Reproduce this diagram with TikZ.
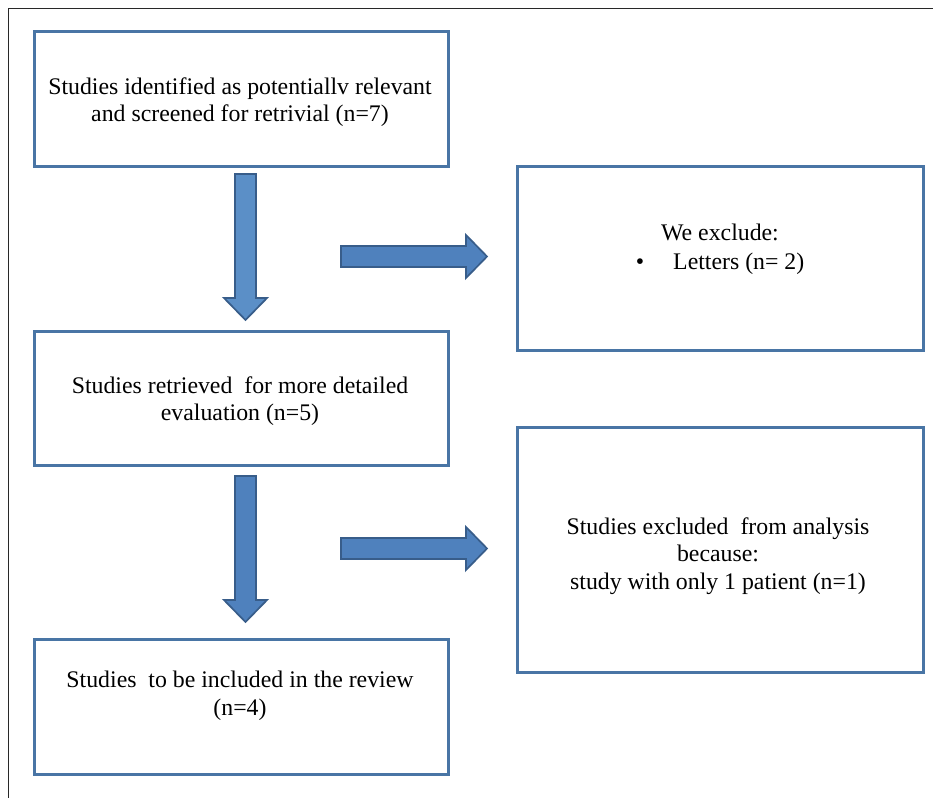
\documentclass[tikz,border=0pt]{standalone}
\usepackage{fontspec}
\setmainfont{Liberation Serif}
\definecolor{boxblue}{RGB}{73,117,165}
\definecolor{arrfill}{RGB}{79,129,189}
\definecolor{arrfillA}{RGB}{91,143,199}
\definecolor{arrline}{RGB}{56,93,138}
\definecolor{framegray}{RGB}{40,40,40}
\begin{document}
\begin{tikzpicture}[x=1pt,y=-1pt,
  box/.style={draw=boxblue,line width=3pt,inner sep=0pt,anchor=north west,fill=white},
  txt/.style={align=center,inner sep=0pt,font=\fontsize{23.8}{27.5}\selectfont},
  blockarrow/.style={fill=arrfill,draw=arrline,line width=1.7pt,line join=miter},
  framestyle/.style={draw=framegray,line width=1.6pt}]
\useasboundingbox (0,0) rectangle (933,798);
\fill[white] (0,0) rectangle (933,798);
\draw[framestyle] (933,8.5) -- (8.5,8.5) -- (8.5,798);
% left column boxes
\node[box,minimum width=414pt,minimum height=135pt] (b1) at (33,30) {};
\node[box,minimum width=414pt,minimum height=134pt] (b2) at (33,330) {};
\node[box,minimum width=414pt,minimum height=135pt] (b3) at (33,638) {};
% right column boxes
\node[box,minimum width=406pt,minimum height=184pt] (r1) at (516,165) {};
\node[box,minimum width=406pt,minimum height=245pt] (r2) at (516,426) {};
% texts
\node[txt] (t1) at (240,102) {Studies identified as potentiallv relevant\\and screened for retrivial (n=7)};
\node[txt] (t2) at (240,401) {Studies retrieved\hspace{0.25em} for more detailed\\evaluation (n=5)};
\node[txt] (t3) at (240,696) {Studies\hspace{0.25em} to be included in the review\\(n=4)};
\node[txt] (t4) at (720,232) {We exclude:};
\node[txt] (t5b) at (640,264) {•};
\node[txt,anchor=west] (t5) at (673,264) {Letters (n= 2)};
\node[txt] (t6) at (718,556) {Studies excluded\hspace{0.25em} from analysis\\because:\\study with only 1 patient (n=1)};
% block arrows
\draw[blockarrow,fill=arrfillA] (235,174) -- (256,174) -- (256,298) -- (267,298) -- (245.5,320) -- (224,298) -- (235,298) -- cycle;
\draw[blockarrow] (341,246) -- (466,246) -- (466,235) -- (487,256.5) -- (466,278) -- (466,267) -- (341,267) -- cycle;
\draw[blockarrow] (235,476) -- (256,476) -- (256,600) -- (267,600) -- (245.5,622) -- (224,600) -- (235,600) -- cycle;
\draw[blockarrow] (341,538) -- (466,538) -- (466,527) -- (487,548.5) -- (466,570) -- (466,559) -- (341,559) -- cycle;
\end{tikzpicture}
\end{document}
